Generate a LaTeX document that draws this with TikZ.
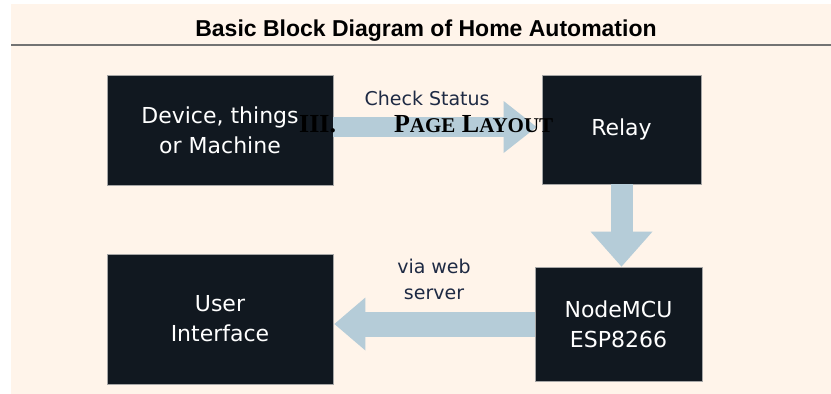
\documentclass[tikz,border=0pt]{standalone}
\usepackage{fontspec}
\setmainfont{DejaVu Sans}
\newfontfamily\titlefont{Liberation Sans}
\newfontfamily\headfont{Liberation Serif}
\usetikzlibrary{positioning, arrows.meta}

\definecolor{paper}{HTML}{FFF4EA}
\definecolor{boxfill}{HTML}{111820}
\definecolor{arrowblue}{HTML}{B5CCD8}
\definecolor{labelblue}{HTML}{1E2A44}

\begin{document}
\begin{tikzpicture}[x=1pt, y=-1pt,
    block/.style={rectangle, draw=gray!70, line width=0.8pt, fill=boxfill, text=white, align=center, font=\fontsize{22}{30}\selectfont},
    arrowtext/.style={text=labelblue, align=center, inner sep=0pt, font=\fontsize{19}{26}\selectfont},
    fatarrow/.style={draw=arrowblue}]
    \useasboundingbox (0,0) rectangle (831,394);
    \fill[white] (0,0) rectangle (831,394);
    \fill[paper] (11,4) rectangle (831,394);
    % Title
    \node[font=\titlefont\fontsize{23}{26}\bfseries\selectfont](title) at (426,31){Basic Block Diagram of Home Automation};
    \draw[gray!90!black, line width=2pt] (11,45) -- (831,45);
    % Blocks
    \node[block, minimum width=226pt, minimum height=110pt](device) at (220,130){Device, things\\or Machine};
    \node[block, minimum width=159pt, minimum height=109pt](relay) at (621.5,129.5){Relay};
    \node[block, minimum width=226pt, minimum height=130pt](ui) at (220,319){User\\Interface};
    \node[block, minimum width=167pt, minimum height=114pt](mcu) at (618.5,324){NodeMCU\\ESP8266};
    % Arrows
    \draw[fatarrow, line width=20pt, -{Triangle[width=52pt, length=33pt, line width=0pt]}, shorten >=5pt] ([yshift=3pt]device.east) -- node[arrowtext, above=11pt, pos=0.45]{Check Status} ([yshift=3pt]device.east -| relay.west);
    \draw[fatarrow, line width=22pt, -{Triangle[width=62pt, length=35pt, line width=0pt]}] (relay.south) -- (relay.south |- mcu.north);
    \draw[fatarrow, line width=25pt, -{Triangle[width=53pt, length=31pt, line width=0pt]}, shorten >=1pt] (mcu.west) -- node[arrowtext, above=12pt]{via web\\server} (mcu.west -| ui.east);
    % Stray heading
    \node[anchor=base west, inner sep=0pt, font=\headfont\fontsize{26}{28}\bfseries\selectfont](heading) at (299,132){III.\hspace{58pt}P{\fontsize{21}{22}\selectfont AGE} L{\fontsize{21}{22}\selectfont AYOUT}};
\end{tikzpicture}
\end{document}
